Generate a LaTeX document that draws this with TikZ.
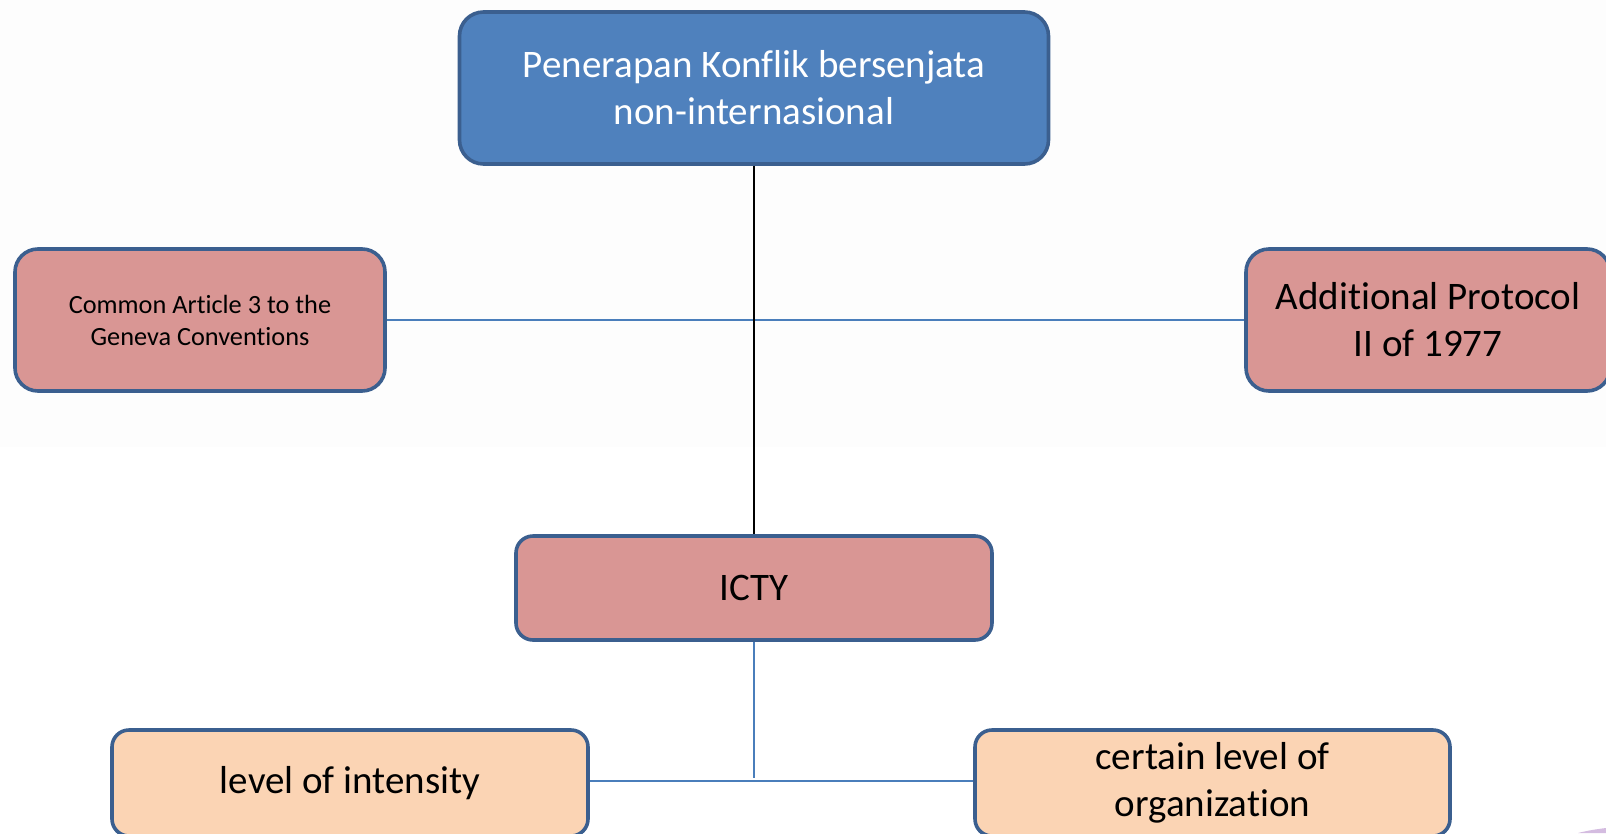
\documentclass[tikz,border=0pt]{standalone}
\usepackage{fontspec}
\setmainfont{Carlito}[Ligatures=NoCommon]
\definecolor{topfill}{HTML}{4F81BD}
\definecolor{pinkfill}{HTML}{D99694}
\definecolor{peachfill}{HTML}{FBD4B4}
\definecolor{boxline}{HTML}{3B5F8F}
\definecolor{linkblue}{HTML}{4A7EBB}
\definecolor{swoosh}{HTML}{D4BCE0}
\tikzset{
  box/.style={draw=boxline, line width=3.6pt, inner sep=0pt, align=center,
    font=\fontsize{39}{47}\selectfont, text=black},
  topbox/.style={box, fill=topfill, text=white, rounded corners=24pt},
  pinkbox/.style={box, fill=pinkfill, rounded corners=23pt},
  ictybox/.style={box, fill=pinkfill, rounded corners=17pt},
  peachbox/.style={box, fill=peachfill, rounded corners=17pt},
  bluelink/.style={draw=linkblue, line width=1.5pt},
  blacklink/.style={draw=black, line width=1.5pt}
}
\begin{document}
\begin{tikzpicture}[x=1pt, y=-1pt]
\useasboundingbox (0,0) rectangle (1606,833);
\fill[black!0.7] (0,0) rectangle (1606,447);
\fill[swoosh] (1578,833) .. controls (1590,830) and (1598,829) .. (1606,828) -- (1606,833) -- cycle;

\node[topbox, minimum width=589pt, minimum height=152pt] (top) at (754,88)
  {Penerapan Konflik bersenjata\\non-internasional};
\node[pinkbox, minimum width=370pt, minimum height=142pt,
  font=\fontsize{26.3}{32}\selectfont] (left) at (200,320)
  {Common Article 3 to the\\Geneva Conventions};
\node[pinkbox, minimum width=364pt, minimum height=142pt] (right) at (1428,320)
  {Additional Protocol\\II of 1977};
\node[ictybox, minimum width=476pt, minimum height=104pt] (icty) at (754,588)
  {ICTY};
\node[peachbox, minimum width=476pt, minimum height=106pt] (bl) at (350,783)
  {level of intensity};
\node[peachbox, minimum width=475pt, minimum height=106pt] (br) at (1212.5,783)
  {certain level of\\organization};
\coordinate (ictyend) at (754,778);

\draw[bluelink] (left.east) -- (right.west);
\draw[blacklink] (top.south) -- (icty.north);
\draw[bluelink] (icty.south) -- (ictyend);
\draw[bluelink] ([yshift=2pt]bl.east) -- ([yshift=2pt]br.west);
\end{tikzpicture}
\end{document}
